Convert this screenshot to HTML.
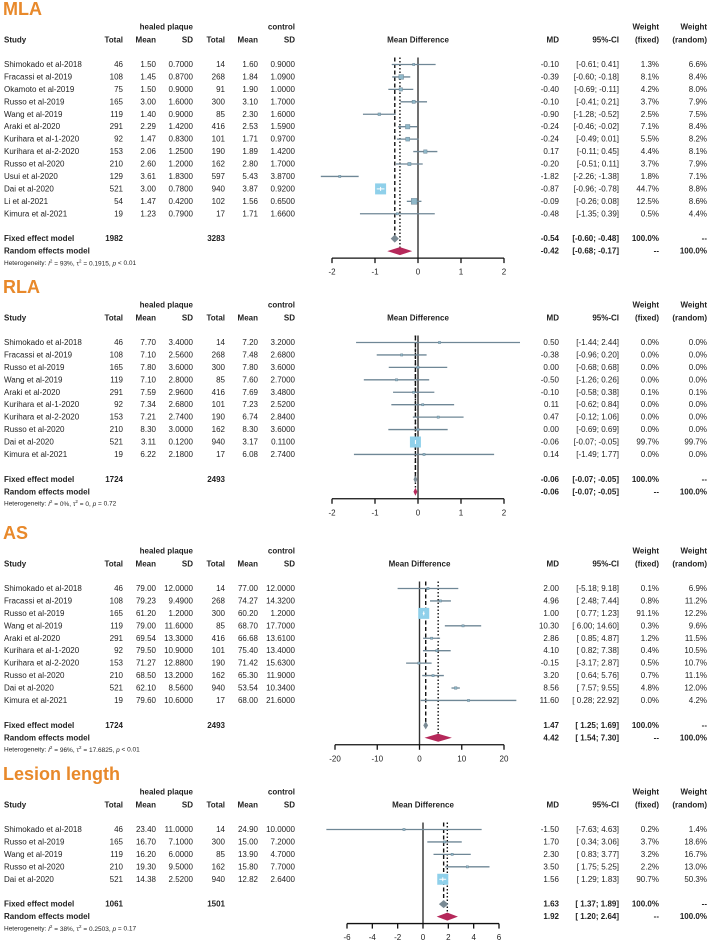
<!DOCTYPE html>
<html><head><meta charset="utf-8">
<style>
html,body{margin:0;padding:0;background:#fff;}
svg{display:block;font-family:"Liberation Sans",Arial,sans-serif;}
</style></head>
<body>
<svg id="fig" width="708" height="940" viewBox="0 0 708 940" xmlns="http://www.w3.org/2000/svg"></svg>
<script>
// ---------- DATA ----------
const mlaStudies = ["Shimokado et al-2018","Fracassi et al-2019","Okamoto et al-2019","Russo et al-2019","Wang et al-2019","Araki et al-2020","Kurihara et al-1-2020","Kurihara et al-2-2020","Russo et al-2020","Usui et al-2020","Dai et al-2020","Li et al-2021","Kimura et al-2021"];
const mlaHealed = [[46,"1.50","0.7000"],[108,"1.45","0.8700"],[75,"1.50","0.9000"],[165,"3.00","1.6000"],[119,"1.40","0.9000"],[291,"2.29","1.4200"],[92,"1.47","0.8300"],[153,"2.06","1.2500"],[210,"2.60","1.2000"],[129,"3.61","1.8300"],[521,"3.00","0.7800"],[54,"1.47","0.4200"],[19,"1.23","0.7900"]];
const mlaControl = [[14,"1.60","0.9000"],[268,"1.84","1.0900"],[91,"1.90","1.0000"],[300,"3.10","1.7000"],[85,"2.30","1.6000"],[416,"2.53","1.5900"],[101,"1.71","0.9700"],[190,"1.89","1.4200"],[162,"2.80","1.7000"],[597,"5.43","3.8700"],[940,"3.87","0.9200"],[102,"1.56","0.6500"],[17,"1.71","1.6600"]];
const mlaMD = [-0.10,-0.39,-0.40,-0.10,-0.90,-0.24,-0.24,0.17,-0.20,-1.82,-0.87,-0.09,-0.48];
const mlaLo = [-0.61,-0.60,-0.69,-0.41,-1.28,-0.46,-0.49,-0.11,-0.51,-2.26,-0.96,-0.26,-1.35];
const mlaHi = [0.41,-0.18,-0.11,0.21,-0.52,-0.02,0.01,0.45,0.11,-1.38,-0.78,0.08,0.39];
const mlaWF = [1.3,8.1,4.2,3.7,2.5,7.1,5.5,4.4,3.7,1.8,44.7,12.5,0.5];
const mlaWR = [6.6,8.4,8.0,7.9,7.5,8.4,8.2,8.1,7.9,7.1,8.8,8.6,4.4];
const mlaTotals = [1982,3283];
const mlaFixed = [-0.54,-0.60,-0.48];
const mlaRandom = [-0.42,-0.68,-0.17];
const mlaHet = ["93%","0.1915","< 0.01"];
const mlaTicks = [-2,-1,0,1,2];

const rlaStudies = ["Shimokado et al-2018","Fracassi et al-2019","Russo et al-2019","Wang et al-2019","Araki et al-2020","Kurihara et al-1-2020","Kurihara et al-2-2020","Russo et al-2020","Dai et al-2020","Kimura et al-2021"];
const rlaHealed = [[46,"7.70","3.4000"],[108,"7.10","2.5600"],[165,"7.80","3.6000"],[119,"7.10","2.8000"],[291,"7.59","2.9600"],[92,"7.34","2.6800"],[153,"7.21","2.7400"],[210,"8.30","3.0000"],[521,"3.11","0.1200"],[19,"6.22","2.1800"]];
const rlaControl = [[14,"7.20","3.2000"],[268,"7.48","2.6800"],[300,"7.80","3.6000"],[85,"7.60","2.7000"],[416,"7.69","3.4800"],[101,"7.23","2.5200"],[190,"6.74","2.8400"],[162,"8.30","3.6000"],[940,"3.17","0.1100"],[17,"6.08","2.7400"]];
const rlaMD = [0.50,-0.38,0.00,-0.50,-0.10,0.11,0.47,0.00,-0.06,0.14];
const rlaLo = [-1.44,-0.96,-0.68,-1.26,-0.58,-0.62,-0.12,-0.69,-0.07,-1.49];
const rlaHi = [2.44,0.20,0.68,0.26,0.38,0.84,1.06,0.69,-0.05,1.77];
const rlaWF = [0.0,0.0,0.0,0.0,0.1,0.0,0.0,0.0,99.7,0.0];
const rlaWR = [0.0,0.0,0.0,0.0,0.1,0.0,0.0,0.0,99.7,0.0];
const rlaTotals = [1724,2493];
const rlaFixed = [-0.06,-0.07,-0.05];
const rlaRandom = [-0.06,-0.07,-0.05];
const rlaHet = ["0%","0","= 0.72"];
const rlaTicks = [-2,-1,0,1,2];

const asStudies = ["Shimokado et al-2018","Fracassi et al-2019","Russo et al-2019","Wang et al-2019","Araki et al-2020","Kurihara et al-1-2020","Kurihara et al-2-2020","Russo et al-2020","Dai et al-2020","Kimura et al-2021"];
const asHealed = [[46,"79.00","12.0000"],[108,"79.23","9.4900"],[165,"61.20","1.2000"],[119,"79.00","11.6000"],[291,"69.54","13.3000"],[92,"79.50","10.9000"],[153,"71.27","12.8800"],[210,"68.50","13.2000"],[521,"62.10","8.5600"],[19,"79.60","10.6000"]];
const asControl = [[14,"77.00","12.0000"],[268,"74.27","14.3200"],[300,"60.20","1.2000"],[85,"68.70","17.7000"],[416,"66.68","13.6100"],[101,"75.40","13.4000"],[190,"71.42","15.6300"],[162,"65.30","11.9000"],[940,"53.54","10.3400"],[17,"68.00","21.6000"]];
const asMD = [2.00,4.96,1.00,10.30,2.86,4.10,-0.15,3.20,8.56,11.60];
const asLo = [-5.18,2.48,0.77,6.00,0.85,0.82,-3.17,0.64,7.57,0.28];
const asHi = [9.18,7.44,1.23,14.60,4.87,7.38,2.87,5.76,9.55,22.92];
const asWF = [0.1,0.8,91.1,0.3,1.2,0.4,0.5,0.7,4.8,0.0];
const asWR = [6.9,11.2,12.2,9.6,11.5,10.5,10.7,11.1,12.0,4.2];
const asTotals = [1724,2493];
const asFixed = [1.47,1.25,1.69];
const asRandom = [4.42,1.54,7.30];
const asHet = ["96%","17.6825","< 0.01"];
const asTicks = [-20,-10,0,10,20];

const llStudies = ["Shimokado et al-2018","Russo et al-2019","Wang et al-2019","Russo et al-2020","Dai et al-2020"];
const llHealed = [[46,"23.40","11.0000"],[165,"16.70","7.1000"],[119,"16.20","6.0000"],[210,"19.30","9.5000"],[521,"14.38","2.5200"]];
const llControl = [[14,"24.90","10.0000"],[300,"15.00","7.2000"],[85,"13.90","4.7000"],[162,"15.80","7.7000"],[940,"12.82","2.6400"]];
const llMD = [-1.50,1.70,2.30,3.50,1.56];
const llLo = [-7.63,0.34,0.83,1.75,1.29];
const llHi = [4.63,3.06,3.77,5.25,1.83];
const llWF = [0.2,3.7,3.2,2.2,90.7];
const llWR = [1.4,18.6,16.7,13.0,50.3];
const llTotals = [1061,1501];
const llFixed = [1.63,1.37,1.89];
const llRandom = [1.92,1.20,2.64];
const llHet = ["38%","0.2503","= 0.17"];
const llTicks = [-6,-4,-2,0,2,4,6];

// ---------- RENDER ----------
const svg = document.getElementById('fig');
const NS = 'http://www.w3.org/2000/svg';
function mk(tag, attrs, parent){
  const e = document.createElementNS(NS, tag);
  for (const k in attrs) e.setAttribute(k, attrs[k]);
  (parent||svg).appendChild(e);
  return e;
}
function txt(g, x, y, s, anchor, opts){
  opts = opts||{};
  const t = mk('text', {x:x, y:y, 'font-size':opts.size||8, 'text-anchor':anchor||'start', 'dominant-baseline':'central', fill:opts.fill||'#222'}, g);
  if (opts.bold) t.setAttribute('font-weight','bold');
  t.setAttribute('xml:space','preserve');
  t.textContent = s;
  return t;
}
function f2(v){ return v.toFixed(2); }
function pad(v){ return (v>=0?' ':'') + f2(v); }
function ci(lo,hi){ return '[' + pad(lo) + '; ' + pad(hi) + ']'; }

const RS = 12.44;
function panel(name, title, studyY, studies, healed, control, md, lo, hi, wf, wr, totals, fixed, random, het, ticks, x0, x1){
  const g = mk('g', {});
  
  
  const tmin = ticks[0], tmax = ticks[ticks.length-1];
  const X = v => x0 + (v - tmin) / (tmax - tmin) * (x1 - x0);
  const row0 = studyY + 24.5;
  const rowY = i => row0 + i*RS;
  const fy = rowY(studies.length - 1) + 2*RS;
  const ry = fy + RS, hy = ry + RS, ay = ry + 7;

  const tt = txt(g, 3, studyY - 31, title, 'start', {size:18, bold:true, fill:'#E8892B'});
  
  

  const hdr = mk('g', {}, g);
  
  
  const hb = {bold:true};
  txt(hdr, 193, studyY-13, 'healed plaque', 'end', hb);
  txt(hdr, 295, studyY-13, 'control', 'end', hb);
  txt(hdr, 659, studyY-13, 'Weight', 'end', hb);
  txt(hdr, 707, studyY-13, 'Weight', 'end', hb);
  txt(hdr, 4, studyY, 'Study', 'start', hb);
  txt(hdr, 123, studyY, 'Total', 'end', hb);
  txt(hdr, 156, studyY, 'Mean', 'end', hb);
  txt(hdr, 193, studyY, 'SD', 'end', hb);
  txt(hdr, 225, studyY, 'Total', 'end', hb);
  txt(hdr, 258, studyY, 'Mean', 'end', hb);
  txt(hdr, 295, studyY, 'SD', 'end', hb);
  txt(hdr, X(0), studyY, 'Mean Difference', 'middle', hb);
  txt(hdr, 559, studyY, 'MD', 'end', hb);
  txt(hdr, 619, studyY, '95%-CI', 'end', hb);
  txt(hdr, 659, studyY, '(fixed)', 'end', hb);
  txt(hdr, 707, studyY, '(random)', 'end', hb);

  const top = row0 - 7;
  const zl = mk('line', {x1:X(0), x2:X(0), y1:top, y2:ay, stroke:'#333', 'stroke-width':1.4}, g);
  
  
  const fl = mk('line', {x1:X(fixed[0]), x2:X(fixed[0]), y1:top, y2:fy, stroke:'#111', 'stroke-width':1.4, 'stroke-dasharray':'4,2.5'}, g);
  
  
  const rl = mk('line', {x1:X(random[0]), x2:X(random[0]), y1:top, y2:ry, stroke:'#111', 'stroke-width':1.4, 'stroke-dasharray':'1.5,2'}, g);
  
  

  const wmax = Math.max.apply(null, wf);
  for (let i=0;i<studies.length;i++){
    const y = rowY(i);
    const r = mk('g', {}, g);
    
    
    txt(r, 4, y, studies[i], 'start');
    txt(r, 123, y, String(healed[i][0]), 'end');
    txt(r, 156, y, healed[i][1], 'end');
    txt(r, 193, y, healed[i][2], 'end');
    txt(r, 225, y, String(control[i][0]), 'end');
    txt(r, 258, y, control[i][1], 'end');
    txt(r, 295, y, control[i][2], 'end');
    txt(r, 559, y, f2(md[i]), 'end');
    txt(r, 619, y, ci(lo[i], hi[i]), 'end');
    txt(r, 659, y, wf[i].toFixed(1)+'%', 'end');
    txt(r, 707, y, wr[i].toFixed(1)+'%', 'end');
    const l = Math.max(X(lo[i]), 300), h = Math.min(X(hi[i]), 520);
    const ln = mk('line', {x1:l, x2:h, y1:y, y2:y, stroke:'#6f8796', 'stroke-width':1.3}, r);
    
    
    const s = Math.max(2.2, 11*Math.sqrt(wf[i]/wmax));
    const big = s > 6;
    const sq = mk('rect', {x:X(md[i])-s/2, y:y-s/2, width:s, height:s, fill: big?'#8fd0ea':'#8fb8c9', stroke: big?'none':'#6f8796', 'stroke-width':0.5}, r);
    
    
    if (big){
      const cx = X(md[i]);
      mk('line', {x1:Math.max(l, cx-s/2), x2:Math.min(h, cx+s/2), y1:y, y2:y, stroke:'#fff', 'stroke-width':1}, r);
      mk('line', {x1:cx, x2:cx, y1:y-2, y2:y+2, stroke:'#fff', 'stroke-width':1}, r);
    }
  }

  const sb = {bold:true};
  const fr = mk('g', {}, g);
  
  
  txt(fr, 4, fy, 'Fixed effect model', 'start', sb);
  txt(fr, 123, fy, String(totals[0]), 'end', sb);
  txt(fr, 225, fy, String(totals[1]), 'end', sb);
  txt(fr, 559, fy, f2(fixed[0]), 'end', sb);
  txt(fr, 619, fy, ci(fixed[1], fixed[2]), 'end', sb);
  txt(fr, 659, fy, '100.0%', 'end', sb);
  txt(fr, 707, fy, '--', 'end', sb);
  const fd = mk('polygon', {points: [X(fixed[1])-1.5+','+fy, X(fixed[0])+','+(fy-4), X(fixed[2])+1.5+','+fy, X(fixed[0])+','+(fy+4)].join(' '), fill:'#7a8a94'}, fr);
  
  

  const rr = mk('g', {}, g);
  
  
  txt(rr, 4, ry, 'Random effects model', 'start', sb);
  txt(rr, 559, ry, f2(random[0]), 'end', sb);
  txt(rr, 619, ry, ci(random[1], random[2]), 'end', sb);
  txt(rr, 659, ry, '--', 'end', sb);
  txt(rr, 707, ry, '100.0%', 'end', sb);
  const rd = mk('polygon', {points: [X(random[1])-1.5+','+ry, X(random[0])+','+(ry-4), X(random[2])+1.5+','+ry, X(random[0])+','+(ry+4)].join(' '), fill:'#b5285a'}, rr);
  
  

  const ht = mk('text', {x:4, y:hy, 'font-size':6.5, 'dominant-baseline':'central', fill:'#222'}, g);
  
  
  ht.setAttribute('xml:space','preserve');
  ht.innerHTML = 'Heterogeneity: <tspan font-style="italic">I</tspan><tspan dy="-3" font-size="4.5">2</tspan><tspan dy="3"> = ' + het[0] + ', τ</tspan><tspan dy="-3" font-size="4.5">2</tspan><tspan dy="3"> = ' + het[1] + ', </tspan><tspan font-style="italic">p</tspan> ' + het[2];

  const ax = mk('g', {}, g);
  
  
  mk('line', {x1:X(tmin), x2:X(tmax), y1:ay, y2:ay, stroke:'#111', 'stroke-width':1.3}, ax);
  ticks.forEach(t => {
    mk('line', {x1:X(t), x2:X(t), y1:ay, y2:ay+5, stroke:'#111', 'stroke-width':1.3}, ax);
    txt(ax, X(t), ay+14, String(t), 'middle');
  });
}

panel('mla', 'MLA', 40, mlaStudies, mlaHealed, mlaControl, mlaMD, mlaLo, mlaHi, mlaWF, mlaWR, mlaTotals, mlaFixed, mlaRandom, mlaHet, mlaTicks, 332, 504);
panel('rla', 'RLA', 318, rlaStudies, rlaHealed, rlaControl, rlaMD, rlaLo, rlaHi, rlaWF, rlaWR, rlaTotals, rlaFixed, rlaRandom, rlaHet, rlaTicks, 332, 504);
panel('as', 'AS', 564, asStudies, asHealed, asControl, asMD, asLo, asHi, asWF, asWR, asTotals, asFixed, asRandom, asHet, asTicks, 335, 504);
panel('lesion-length', 'Lesion length', 805, llStudies, llHealed, llControl, llMD, llLo, llHi, llWF, llWR, llTotals, llFixed, llRandom, llHet, llTicks, 347, 499);
</script>
</body></html>
